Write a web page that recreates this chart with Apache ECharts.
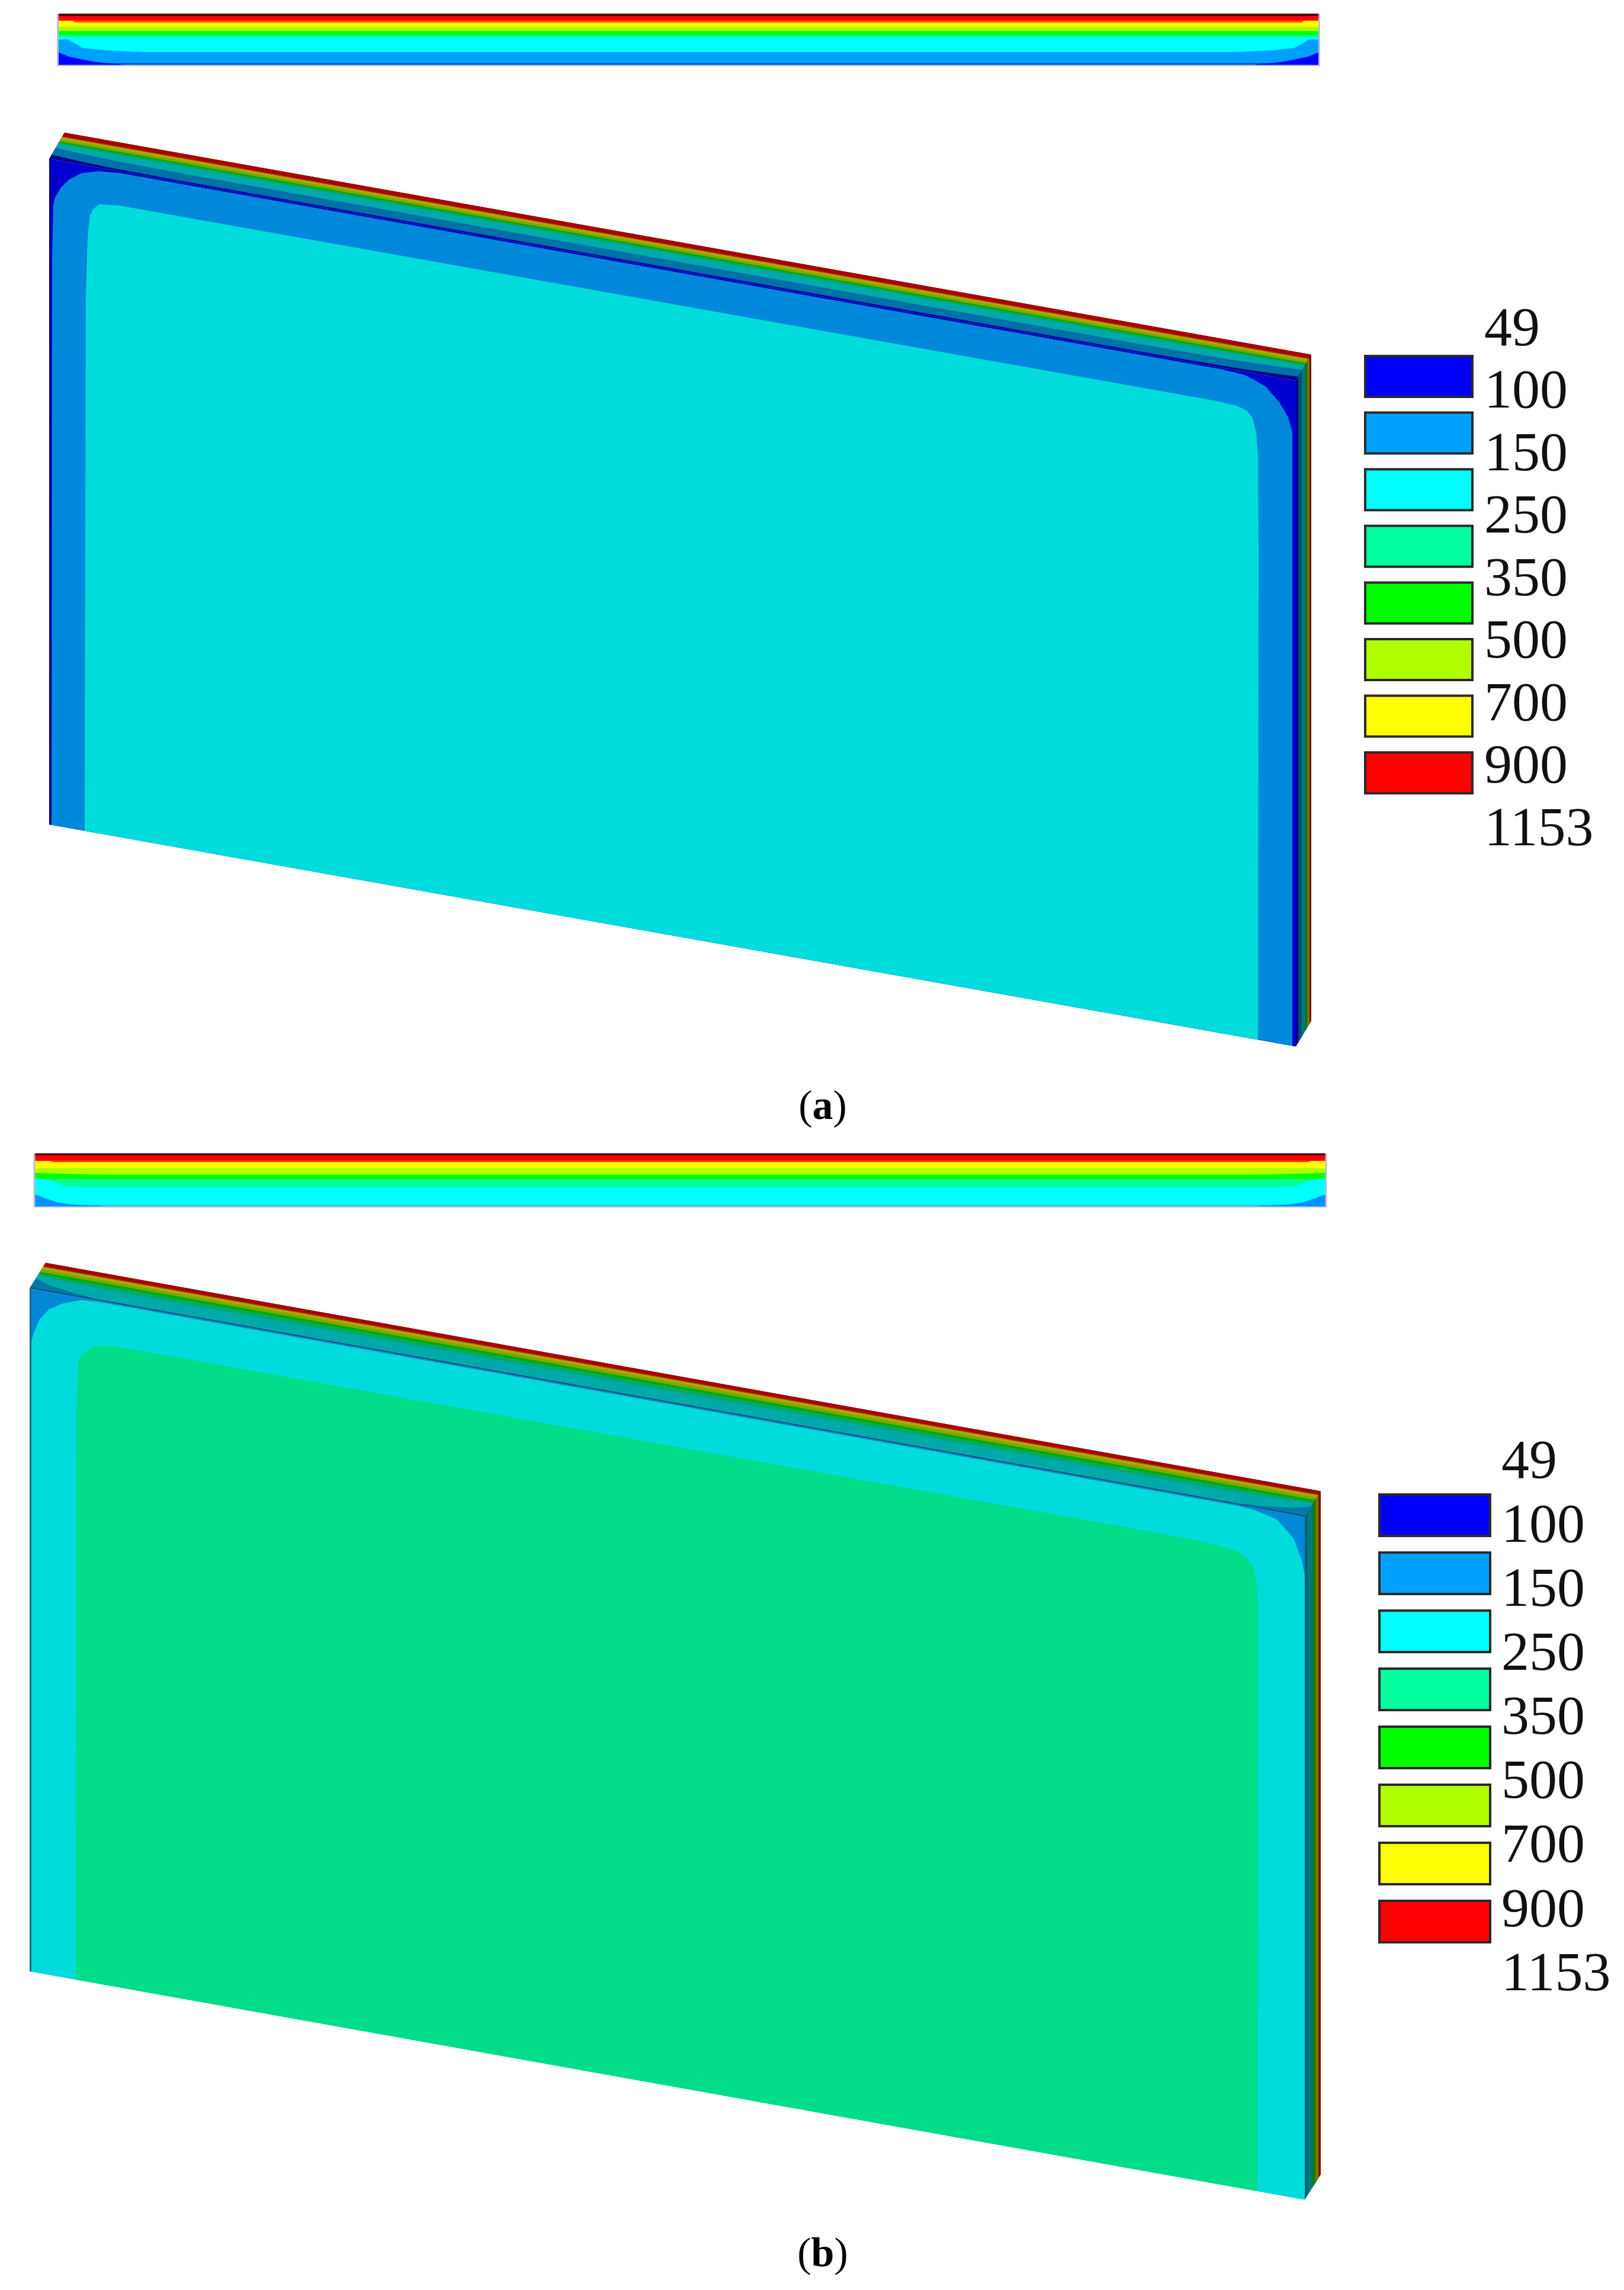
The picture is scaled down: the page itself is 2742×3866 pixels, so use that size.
<!DOCTYPE html>
<html>
<head>
<meta charset="utf-8">
<title>Temperature contours</title>
<script src="https://cdn.jsdelivr.net/npm/echarts@6/dist/echarts.min.js"></script>
<style>
  html, body { margin: 0; background: #fff; }
  #main { width: 2742px; height: 3866px; }
</style>
</head>
<body>
<div id="main"></div>
<script>
// temperature levels of the colour key
const levelTicks = ['49', '100', '150', '250', '350', '500', '700', '900', '1153']
const levelBands = ['49-100', '100-150', '150-250', '250-350', '350-500', '500-700', '700-900', '900-1153']
const levelColors = ['#0000ff', '#00a0ff', '#00ffff', '#00ff9f', '#00ff00', '#b0ff00', '#ffff00', '#ff0000']
const bandShare = [1, 1, 1, 1, 1, 1, 1, 1]

// plan view strips: [distance along wall, depth from hot face]
const stripAContours = [
  ['#4a0000', [[0, 0], [2130, 0]]],
  ['#ff0000', [[0, 4], [2130, 4]]],
  ['#ff5000', [[0, 11.5], [27, 11.5], [2103, 11.5], [2130, 11.5]]],
  ['#ffff00', [[0, 12], [26, 12], [29, 15], [2101, 15], [2104, 12], [2130, 12]]],
  ['#b0ff00', [[0, 22], [2130, 22]]],
  ['#00ff00', [[0, 29.5], [2130, 29.5]]],
  ['#00ff99', [[0, 36], [2130, 36]]],
  ['#00ffff', [[0, 40], [2130, 40]]],
  ['#00a0ff', [[0, 43.5], [17, 43.5], [28, 50], [42, 58], [80, 62], [145, 65], [1985, 65], [2050, 62], [2088, 58], [2102, 50], [2113, 43.5], [2130, 43.5]]],
  ['#0a5cd0', [[0, 83.5], [2130, 83.5]]],
  ['#0000ff', [[0, 65], [20, 73], [60, 81], [80, 83.5], [105, 85], [110, 87], [0, 87]]],
  ['#0000ff', [[2130, 65], [2110, 73], [2070, 81], [2050, 83.5], [2025, 85], [2020, 87], [2130, 87]]]
]
const stripBContours = [
  ['#4a0000', [[0, 0], [2181, 0]]],
  ['#ff0000', [[0, 3.5], [2181, 3.5]]],
  ['#ff5000', [[0, 12.5], [2181, 12.5]]],
  ['#ffff00', [[0, 13], [26, 13], [30, 15], [2151, 15], [2155, 13], [2181, 13]]],
  ['#b0ff00', [[0, 25], [2181, 25]]],
  ['#00ff00', [[0, 33], [30, 34], [115, 36], [2066, 36], [2151, 34], [2181, 33]]],
  ['#00ff99', [[0, 43.5], [2181, 43.5]]],
  ['#00ffff', [[0, 42], [13, 43], [36, 49], [53, 56], [80, 57.5], [2101, 57.5], [2128, 56], [2145, 49], [2168, 43], [2181, 42]]],
  ['#30c8d0', [[0, 87], [2181, 87]]],
  ['#0090ff', [[0, 69], [19, 76], [39, 83], [69, 87], [113, 88.5], [115, 90], [0, 90]]],
  ['#0090ff', [[2181, 69], [2162, 76], [2142, 83], [2112, 87], [2068, 88.5], [2066, 90], [2181, 90]]]
]

// front face of the wall: [along wall, down wall]
const faceAContours = [
  ['#0000d0', [[0, 0], [2105, 0], [2105, 1124], [0, 1124]]],
  ['#000088', [[0, 0], [3, 0], [3, 1124], [0, 1124]]],
  ['#0088da', [[4, 1124], [5, 170], [7, 78], [10, 63], [20, 45], [34, 29], [54, 15], [84, 6], [120, 3], [1980, 3], [2021, 6], [2054, 19], [2077, 41], [2092, 64], [2099, 88], [2099, 1124]]],
  ['#00dcdc', [[60, 1124], [62, 221], [65, 120], [69, 83], [74, 72], [84, 62], [120, 58], [1970, 58], [2005, 60], [2022, 65], [2032, 76], [2038, 100], [2041, 140], [2042, 300], [2041, 1124]]]
]
const faceBContours = [
  ['#0088d8', [[0, 0], [2153, 0], [2153, 1153], [0, 1153]]],
  ['#006e8c', [[0, 0], [3, 0], [3, 1153], [0, 1153]]],
  ['#00dcdc', [[3, 1153], [3, 88], [7, 74], [17, 49], [33, 29], [57, 15], [87, 4], [120, 2], [2040, 2], [2068, 4], [2106, 13], [2134, 40], [2148, 75], [2153, 99], [2153, 1153]]],
  ['#00dc88', [[78, 1153], [79, 191], [83, 107], [87, 97], [107, 78], [140, 72], [1960, 72], [2005, 74], [2038, 79], [2056, 88], [2066, 102], [2072, 128], [2074, 170], [2074, 400], [2073, 1153]]]
]

// top face: [along wall, share of thickness from the front]
const topAContours = [
  ['#00008c', [[0, 0], [2105, 0]]],
  ['#0070a8', [[0, 0.16], [30, 0.12], [90, 0.07], [200, 0.05], [1900, 0.05], [2000, 0.07], [2075, 0.12], [2105, 0.16]]],
  ['#00aaaa', [[0, 0.42], [40, 0.38], [110, 0.33], [220, 0.31], [1880, 0.31], [1990, 0.33], [2065, 0.38], [2105, 0.42]]],
  ['#00aa66', [[0, 0.58], [60, 0.56], [160, 0.55], [1945, 0.55], [2045, 0.56], [2105, 0.58]]],
  ['#00aa00', [[0, 0.62], [2105, 0.62]]],
  ['#77aa00', [[0, 0.67], [2105, 0.67]]],
  ['#aaaa00', [[0, 0.75], [2105, 0.75]]],
  ['#aa4000', [[0, 0.83], [2105, 0.83]]],
  ['#aa0000', [[0, 0.86], [2105, 0.86]]]
]
const topBContours = [
  ['#0a4c6e', [[0, 0], [2153, 0]]],
  ['#0078aa', [[0, 0.04], [2153, 0.04]]],
  ['#00aaaa', [[0, 0.4], [25, 0.24], [70, 0.12], [110, 0.05], [2043, 0.05], [2083, 0.12], [2128, 0.24], [2153, 0.4]]],
  ['#00aa66', [[0, 0.52], [60, 0.46], [180, 0.42], [1973, 0.42], [2093, 0.46], [2153, 0.52]]],
  ['#00aa00', [[0, 0.57], [2153, 0.57]]],
  ['#77aa00', [[0, 0.65], [2153, 0.65]]],
  ['#aaaa00', [[0, 0.75], [2153, 0.75]]],
  ['#aa4000', [[0, 0.84], [2153, 0.84]]],
  ['#aa0000', [[0, 0.87], [2153, 0.87]]]
]

// right end face: share of thickness where each band starts
const sideABands = [['#00007a', 0], ['#004c78', 0.15], ['#007878', 0.38], ['#007800', 0.62], ['#527800', 0.7], ['#787800', 0.78], ['#801000', 0.88]]
const sideBBands = [['#00607a', 0], ['#007a7a', 0.18], ['#007a40', 0.46], ['#007a00', 0.56], ['#527a00', 0.61], ['#7a7a00', 0.72], ['#801000', 0.86]]

// where each panel sits on the page
const panelA = {
  strip: { left: 97.5, top: 23, length: 2130, depth: 87 },
  plate: { x0: 83, y0: 268, length: 2105, height: 1124, slope: 0.178, dx: 26, dy: -44 },
  swatch: { left: 2303, top: 587.7, width: 185, height: 764.8, bar: 73 },
  ticks: { left: 2504, top: 558, height: 844 },
  caption: { name: 'a', x: 1389, y: 1874 }
}
const panelB = {
  strip: { left: 58, top: 1947, length: 2181, depth: 90 },
  plate: { x0: 50, y0: 2175, length: 2153, height: 1153, slope: 0.179, dx: 27, dy: -43 },
  swatch: { left: 2327, top: 2509, width: 191, height: 784, bar: 74 },
  ticks: { left: 2533, top: 2470, height: 865 },
  caption: { name: 'b', x: 1389, y: 3811 }
}

const serifFont = '"Liberation Serif", "Times New Roman", serif'
const option = { animation: false, backgroundColor: '#fff', title: [], grid: [], xAxis: [], yAxis: [], series: [] }

function addGrid(box, xRange, yRange, yExtra) {
  option.grid.push({ left: box.left, top: box.top, width: box.width, height: box.height, containLabel: false })
  const gridIndex = option.grid.length - 1
  option.xAxis.push({ type: 'value', gridIndex, show: false, min: xRange[0], max: xRange[1] })
  option.yAxis.push(Object.assign({ type: 'value', gridIndex, show: false, inverse: true, min: yRange[0], max: yRange[1] }, yExtra))
  return gridIndex
}

function polygonSeries(gridIndex, polygons) {
  return {
    type: 'custom',
    xAxisIndex: gridIndex,
    yAxisIndex: gridIndex,
    coordinateSystem: 'cartesian2d',
    clip: false,
    silent: true,
    data: polygons.map((p, i) => [i]),
    renderItem(params, api) {
      const p = polygons[params.dataIndex]
      return {
        type: 'polygon',
        shape: { points: p.points.map(q => api.coord(q)) },
        style: { fill: p.color }
      }
    }
  }
}

function addStrip(s, contours) {
  const g = addGrid({ left: s.left, top: s.top, width: s.length, height: s.depth }, [0, s.length], [0, s.depth])
  const polygons = contours.map(([color, edge]) => {
    // an edge that already closes on itself is a corner patch, the rest run down to the cold face
    const closed = edge[edge.length - 1][1] === s.depth
    const points = closed ? edge : edge.concat([[s.length, s.depth], [0, s.depth]])
    return { color, points }
  })
  option.series.push(polygonSeries(g, polygons))
  // thin pale rim of the image
  option.series.push({
    type: 'line', xAxisIndex: g, yAxisIndex: g, silent: true, symbol: 'none',
    lineStyle: { color: '#c0bcd8', width: 3 },
    data: [[0, 0], [0, s.depth + 1], [s.length, s.depth + 1], [s.length, 0]]
  })
}

function addPlate(p, faceContours, topContours, sideBands) {
  const project = (u, v, w) => [u + p.dx * w, p.slope * u + v + p.dy * w]
  const yMax = p.slope * p.length + p.height
  const g = addGrid(
    { left: p.x0, top: p.y0 + p.dy, width: p.length + p.dx, height: yMax - p.dy },
    [0, p.length + p.dx], [p.dy, yMax]
  )
  const polygons = []
  faceContours.forEach(([color, pts]) => {
    polygons.push({ color, points: pts.map(q => project(q[0], q[1], 0)) })
  })
  topContours.forEach(([color, edge]) => {
    const pts = edge.concat([[p.length, 1], [0, 1]])
    polygons.push({ color, points: pts.map(q => project(q[0], 0, q[1])) })
  })
  sideBands.forEach(([color, w]) => {
    polygons.push({
      color,
      points: [project(p.length, 0, w), project(p.length, 0, 1), project(p.length, p.height, 1), project(p.length, p.height, w)]
    })
  })
  option.series.push(polygonSeries(g, polygons))
}

function addKey(sw, t) {
  // colour swatches
  option.grid.push({ left: sw.left, top: sw.top, width: sw.width, height: sw.height })
  const g = option.grid.length - 1
  option.xAxis.push({ type: 'value', gridIndex: g, show: false, min: 0, max: 1 })
  option.yAxis.push({ type: 'category', gridIndex: g, show: false, inverse: true, data: levelBands })
  option.series.push({
    type: 'bar',
    xAxisIndex: g,
    yAxisIndex: g,
    silent: true,
    barWidth: sw.bar,
    data: bandShare.map((v, i) => ({
      value: v,
      itemStyle: { color: levelColors[i], borderColor: '#2a2a2a', borderWidth: 4 }
    }))
  })
  // tick labels sit on their own wider scale, between the swatches
  const h = addGrid({ left: t.left, top: t.top, width: 1, height: t.height }, [0, 1], [0, levelTicks.length - 1], {
    show: true,
    position: 'right',
    interval: 1,
    axisLine: { show: false },
    axisTick: { show: false },
    splitLine: { show: false },
    axisLabel: {
      show: true,
      margin: 1,
      align: 'left',
      color: '#111',
      fontFamily: serifFont,
      fontSize: 94,
      formatter: v => levelTicks[v]
    }
  })
  option.series.push({ type: 'line', xAxisIndex: h, yAxisIndex: h, silent: true, symbol: 'none', lineStyle: { opacity: 0 }, data: [[0, 0], [0, 8]] })
}

function addCaption(c) {
  option.title.push({
    text: '({b|' + c.name + '})',
    left: c.x,
    top: c.y - 38,
    textAlign: 'center',
    padding: 0,
    textStyle: {
      fontFamily: serifFont,
      fontSize: 70,
      fontWeight: 'normal',
      color: '#000',
      rich: { b: { fontFamily: serifFont, fontSize: 70, fontWeight: 'bold', color: '#000' } }
    }
  })
}

[[panelA, stripAContours, faceAContours, topAContours, sideABands],
 [panelB, stripBContours, faceBContours, topBContours, sideBBands]].forEach(([panel, strip, face, top, side]) => {
  addStrip(panel.strip, strip)
  addPlate(panel.plate, face, top, side)
  addKey(panel.swatch, panel.ticks)
  addCaption(panel.caption)
})

const myChart = echarts.init(document.getElementById('main'))
myChart.setOption(option)
</script>
</body>
</html>
